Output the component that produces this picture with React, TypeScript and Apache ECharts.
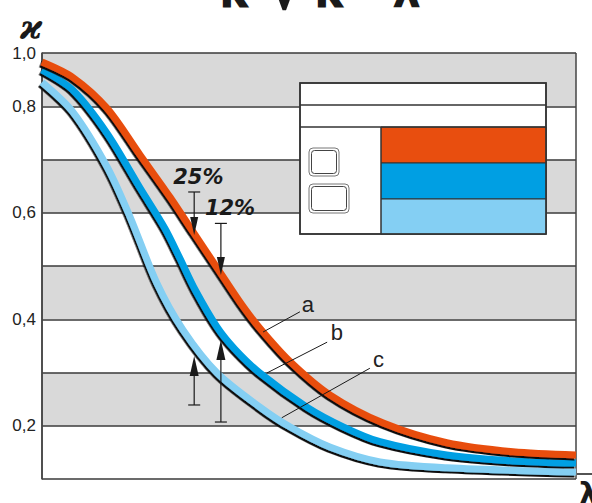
import React, { useEffect, useRef } from "react";
import * as echarts from "echarts";

// Curve a (orange)
const xA = [0, 5.8, 12.2, 18.4, 24.0, 28.3, 33.3, 37.1, 40.8, 46.4, 53.9, 63.9, 75.8, 88.2, 100];
const curveA = [0.883, 0.854, 0.796, 0.708, 0.629, 0.564, 0.489, 0.432, 0.383, 0.321, 0.258, 0.205, 0.168, 0.151, 0.145];
// Curve b (blue)
const xB = [0, 5.8, 12.2, 18.4, 23.0, 25.8, 28.7, 32.8, 36.1, 40.8, 49.6, 56.4, 63.3, 75.8, 88.2, 100];
const curveB = [0.868, 0.83, 0.749, 0.646, 0.571, 0.515, 0.455, 0.385, 0.344, 0.299, 0.235, 0.198, 0.17, 0.145, 0.134, 0.13];
// Curve c (light blue)
const xC = [0, 5.8, 12.2, 16.5, 21.5, 26.4, 32.8, 40.8, 46.4, 53.9, 63.3, 75.8, 100];
const curveC = [0.845, 0.789, 0.686, 0.592, 0.468, 0.38, 0.299, 0.235, 0.198, 0.16, 0.132, 0.121, 0.113];

const yTickLabels = ["", "0,2", "", "0,4", "", "0,6", "", "0,8", "1,0"];
const percentLabels = ["25%", "12%"];

// arrows: [x, tail value, tip value]
const arrows = [
  [28.5, 0.639, 0.558],
  [33.5, 0.58, 0.483],
  [28.5, 0.239, 0.331],
  [33.5, 0.207, 0.361],
];
// leader lines: [x1, y1, x2, y2, labelX, labelY, label]
const leaders: [number, number, number, number, number, number, string][] = [
  [41.4, 0.376, 48.3, 0.414, 49.8, 0.427, "a"],
  [42.1, 0.299, 53.4, 0.357, 55.2, 0.375, "b"],
  [44.9, 0.215, 61.4, 0.308, 63.0, 0.325, "c"],
];

const COLORS = ["#E84E0F", "#009FE3", "#84CFF3"];
const INK = "#1a1a1a";

export default function App() {
  const ref = useRef<HTMLDivElement>(null);
  useEffect(() => {
    const chart = echarts.init(ref.current!, undefined, { renderer: "svg" });
    const mk = (xs: number[], ys: number[]) => xs.map((x, i) => [x, ys[i]]);
    const line = (name: string, data: number[][], color: string) => ({
      name,
      type: "line",
      data,
      smooth: 0.3,
      symbol: "none",
      lineStyle: {
        color,
        width: 7,
        shadowColor: "#111",
        shadowBlur: 0,
        shadowOffsetX: -1.5,
        shadowOffsetY: 2,
      },
    });
    chart.setOption({
      animation: false,
      grid: { left: 42, right: 16, top: 53, bottom: 24 },
      xAxis: {
        type: "value",
        min: 0,
        max: 100,
        interval: 100,
        axisLabel: { show: false },
        axisTick: { show: false },
        axisLine: { show: false },
        splitLine: { show: true, lineStyle: { color: "#444", width: 1.5 } },
      },
      yAxis: {
        type: "value",
        min: 0.1,
        max: 0.9,
        interval: 0.1,
        axisLine: { show: true, lineStyle: { color: "#444", width: 1.5 } },
        axisTick: { show: false },
        axisLabel: {
          formatter: (v: number) => yTickLabels[Math.round((v - 0.1) / 0.1)] || "",
          color: "#222",
          fontSize: 17,
          fontFamily: "Liberation Sans",
          margin: 6,
        },
        splitLine: { show: true, lineStyle: { color: "#3a3a3a", width: 1.5 } },
        splitArea: { show: true, areaStyle: { color: ["#ffffff", "#d9d9d9"] } },
      },
      series: [
        line("c", mk(xC, curveC), COLORS[2]),
        line("b", mk(xB, curveB), COLORS[1]),
        line("a", mk(xA, curveA), COLORS[0]),
      ],
    });

    const px = (x: number, y: number) => chart.convertToPixel({ gridIndex: 0 }, [x, y]) as number[];
    const g: any[] = [];
    // arrows
    arrows.forEach(([x, tail, tip], i) => {
      const [ax, ty] = px(x, tail);
      const [, py] = px(x, tip);
      const dir = Math.sign(py - ty);
      const hl = i < 2 ? 18 : 20;
      const hw = i < 2 ? 4 : 4.5;
      const base = py - dir * hl;
      g.push({ type: "line", z: 50, shape: { x1: ax - 6, y1: ty, x2: ax + 6, y2: ty }, style: { stroke: INK, lineWidth: 1.2 } });
      g.push({ type: "line", z: 50, shape: { x1: ax, y1: ty, x2: ax, y2: base }, style: { stroke: INK, lineWidth: 1.2 } });
      g.push({ type: "polygon", z: 50, shape: { points: [[ax - hw, base], [ax + hw, base], [ax, py]] }, style: { fill: INK } });
    });
    // percent labels above the down arrows
    const [p1x, p1y] = px(arrows[0][0], arrows[0][1]);
    const [p2x, p2y] = px(arrows[1][0], arrows[1][1]);
    g.push({ type: "text", z: 50, x: p1x - 21, y: p1y - 15, style: { text: percentLabels[0], font: 'bold italic 21px "DejaVu Sans"', fill: INK, align: "left", verticalAlign: "middle" } });
    g.push({ type: "text", z: 50, x: p2x - 16, y: p2y - 15, style: { text: percentLabels[1], font: 'bold italic 21px "DejaVu Sans"', fill: INK, align: "left", verticalAlign: "middle" } });
    // leaders
    leaders.forEach(([x1, y1, x2, y2, lx, ly, t]) => {
      const a = px(x1, y1);
      const b = px(x2, y2);
      const l = px(lx, ly);
      g.push({ type: "line", z: 50, shape: { x1: a[0], y1: a[1], x2: b[0], y2: b[1] }, style: { stroke: INK, lineWidth: 1 } });
      g.push({ type: "text", z: 50, x: l[0], y: l[1], style: { text: t, font: '22px "Liberation Sans"', fill: "#222", align: "center", verticalAlign: "middle" } });
    });
    // legend box
    const st = { stroke: "#333", lineWidth: 1.5 };
    g.push({ type: "rect", z: 60, shape: { x: 300, y: 83, width: 246, height: 151 }, style: { fill: "#fff", ...st } });
    g.push({ type: "rect", z: 61, shape: { x: 381, y: 127, width: 165, height: 36 }, style: { fill: COLORS[0], stroke: "#333", lineWidth: 1 } });
    g.push({ type: "rect", z: 61, shape: { x: 381, y: 163, width: 165, height: 36 }, style: { fill: COLORS[1], stroke: "#333", lineWidth: 1 } });
    g.push({ type: "rect", z: 61, shape: { x: 381, y: 199, width: 165, height: 35 }, style: { fill: COLORS[2], stroke: "#333", lineWidth: 1 } });
    g.push({ type: "rect", z: 62, shape: { x: 300, y: 83, width: 246, height: 151 }, style: { fill: "none", ...st } });
    g.push({ type: "line", z: 62, shape: { x1: 300, y1: 105, x2: 546, y2: 105 }, style: st });
    g.push({ type: "line", z: 62, shape: { x1: 300, y1: 127, x2: 546, y2: 127 }, style: st });
    g.push({ type: "line", z: 62, shape: { x1: 381, y1: 127, x2: 381, y2: 234 }, style: { stroke: "#333", lineWidth: 1 } });
    // icons
    g.push({ type: "rect", z: 62, shape: { x: 309, y: 148, width: 30, height: 28, r: 4 }, style: { fill: "#fff", stroke: "#777", lineWidth: 1 } });
    g.push({ type: "rect", z: 62, shape: { x: 311.5, y: 150.5, width: 25, height: 23, r: 3 }, style: { fill: "#fff", stroke: "#444", lineWidth: 1 } });
    g.push({ type: "rect", z: 62, shape: { x: 309, y: 184, width: 40, height: 29, r: 4 }, style: { fill: "#fff", stroke: "#777", lineWidth: 1 } });
    g.push({ type: "rect", z: 62, shape: { x: 311.5, y: 186.5, width: 35, height: 24, r: 3 }, style: { fill: "#fff", stroke: "#444", lineWidth: 1 } });
    // y axis name (kappa)
    g.push({ type: "text", z: 50, x: 31, y: 27, style: { text: "ϰ", font: 'bold italic 34px "DejaVu Serif"', fill: INK, align: "center", verticalAlign: "middle" } });
    // title (cut off at top)
    const tf = 'bold 46px "DejaVu Sans"';
    [["κ", 219, -9, tf], ["·", 244, -9, tf], ["√", 266, -12, 'bold 60px "DejaVu Sans"'], ["κ", 314, -9, tf], ["=", 352, -9, tf], ["λ", 392, -9, tf]].forEach(([t, x, y, f]) => {
      g.push({ type: "text", z: 50, x: x as number, y: y as number, style: { text: t as string, font: f as string, fill: INK, align: "left", verticalAlign: "middle" } });
    });
    // x axis name
    g.push({ type: "line", z: 50, shape: { x1: 577, y1: 474, x2: 592, y2: 474 }, style: { stroke: INK, lineWidth: 1.5 } });
    g.push({ type: "text", z: 50, x: 579, y: 478, style: { text: "λ", font: 'bold 30px "DejaVu Sans"', fill: INK, align: "left", verticalAlign: "top" } });

    chart.setOption({ graphic: g });
    return () => chart.dispose();
  }, []);
  return <div ref={ref} style={{ position: "absolute", left: 0, top: 0, width: 592, height: 503 }} />;
}
